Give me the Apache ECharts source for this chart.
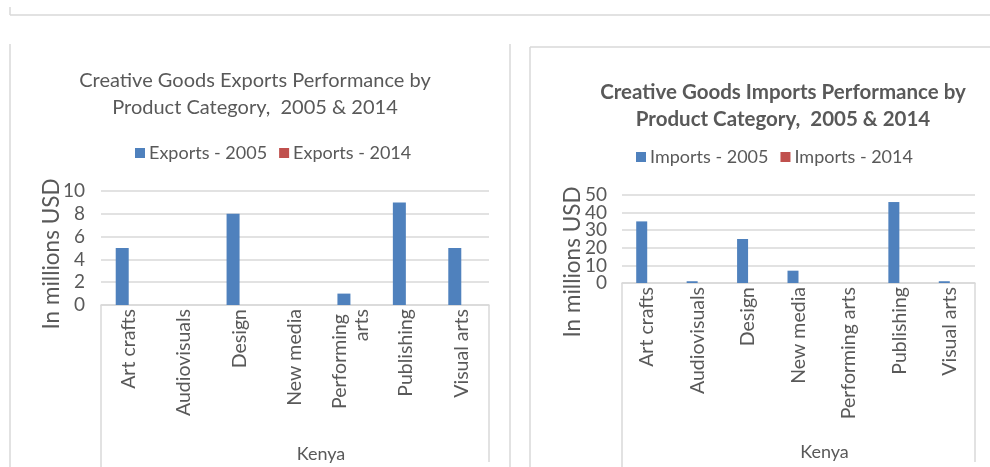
<!DOCTYPE html>
<html>
<head>
<meta charset="utf-8">
<script src="https://cdn.jsdelivr.net/npm/echarts@6/dist/echarts.min.js"></script>
<style>
  html, body { margin: 0; padding: 0; background: #ffffff; }
  #chart { width: 990px; height: 467px; }
</style>
</head>
<body>
<div id="chart"></div>
<script>
// Product categories shared by both panels
const categories = ['Art crafts', 'Audiovisuals', 'Design', 'New media', 'Performing arts', 'Publishing', 'Visual arts'];

// Exports, in millions USD
const exports2005 = [5, 0, 8, 0, 1, 9, 5];
const exports2014 = [0, 0, 0, 0, 0, 0, 0];

// Imports, in millions USD
const imports2005 = [35, 1, 25, 7, 0, 46, 1];
const imports2014 = [0, 0, 0, 0, 0, 0, 0];

// Tick labels of the imports value scale (0–50, step 10)
const importTicks = ['0', '10', '20', '30', '40', '50'];

const countryLabel = 'Kenya';
const yName = 'In millions USD';

const FONT = 'Lato, "Open Sans", sans-serif';
const TEXT = '#595959';
const LINE = '#d9d9d9';
const BLUE = '#4f81bd';
const RED = '#c0504d';

const W = 990, H = 467;
// plot rectangles (pixels)
const gL = { left: 101, right: W - 489, top: 191, bottom: H - 305 };
const gR = { left: 622, right: W - 975, top: 195, bottom: H - 283 };

function xAxisCfg(gridIndex, labelWidth, gap) {
  return {
    type: 'category', gridIndex, data: categories,
    axisLine: { show: true, lineStyle: { color: LINE, width: 1.5 } },
    axisTick: { show: false },
    axisLabel: {
      rotate: 90, color: TEXT, fontFamily: FONT, fontSize: 19.5, margin: 4,
      interval: 0, width: labelWidth, overflow: labelWidth ? 'break' : 'none', lineHeight: 22
    },
    name: countryLabel, nameLocation: 'middle', nameGap: gap, nameMoveOverlap: false,
    nameTextStyle: { color: TEXT, fontFamily: FONT, fontSize: 18, padding: [0, 0, 0, 52] },
    splitLine: { show: false }
  };
}
const yLabelStyle = { color: TEXT, fontFamily: FONT, fontSize: 19, margin: 16 };
function yAxisCfg(gridIndex, max, interval, gap, shift, showLabels) {
  return {
    type: 'value', gridIndex, min: 0, max, interval,
    name: yName, nameLocation: 'middle', nameGap: gap, nameRotate: 90, nameMoveOverlap: false,
    nameTextStyle: { color: TEXT, fontFamily: FONT, fontSize: 22.5, padding: [0, shift, 0, 0] },
    axisLine: { show: false }, axisTick: { show: false },
    axisLabel: Object.assign({ show: showLabels }, yLabelStyle),
    splitLine: { lineStyle: { color: LINE, width: 1.5 } }
  };
}

// the imports scale is tightly packed, so its tick labels are laid out on a
// companion axis that keeps every label
const yRTicks = {
  type: 'category', gridIndex: 1, data: importTicks, boundaryGap: false, position: 'left',
  axisLine: { show: false }, axisTick: { show: false }, splitLine: { show: false },
  axisLabel: Object.assign({}, yLabelStyle, { interval: 0, margin: 15 })
};

const chart = echarts.init(document.getElementById('chart'), null, { renderer: 'canvas' });

// frame lines around the two panels
function seg(x1, y1, x2, y2) {
  return { type: 'line', shape: { x1, y1, x2, y2 }, style: { stroke: LINE, lineWidth: 1.5 }, silent: true };
}
// outer boundaries of the category axis (Excel-style multi-level axis)
function axisSides(g) {
  const x1 = g.left, x2 = W - g.right, y = H - g.bottom;
  return [seg(x1, y, x1, H), seg(x2, y, x2, H - 5)];
}

const legendText = { color: TEXT, fontFamily: FONT, fontSize: 18, padding: [0, 0, 0, -1] };

chart.setOption({
  backgroundColor: '#ffffff',
  animation: false,
  color: [BLUE, RED],
  title: [
    {
      text: 'Creative Goods Exports Performance by\nProduct Category,  2005 & 2014',
      left: 250, top: 62, textAlign: 'center',
      textStyle: { color: TEXT, fontFamily: FONT, fontSize: 20, fontWeight: 'normal', lineHeight: 27 }
    },
    {
      text: 'Creative Goods Imports Performance by\nProduct Category,  2005 & 2014',
      left: 778, top: 74, textAlign: 'center',
      textStyle: { color: TEXT, fontFamily: FONT, fontSize: 20.5, fontWeight: 'bold', lineHeight: 27 }
    }
  ],
  legend: [
    {
      data: ['Exports - 2005', 'Exports - 2014'], left: 130, top: 139,
      itemWidth: 10, itemHeight: 10, itemGap: 12, icon: 'rect', textStyle: legendText
    },
    {
      data: ['Imports - 2005', 'Imports - 2014'], left: 631, top: 143,
      itemWidth: 10, itemHeight: 10, itemGap: 12, icon: 'rect', textStyle: legendText
    }
  ],
  grid: [
    Object.assign({ containLabel: false }, gL),
    Object.assign({ containLabel: false }, gR)
  ],
  xAxis: [xAxisCfg(0, 118, 140), xAxisCfg(1, null, 160)],
  yAxis: [yAxisCfg(0, 10, 2, 38, 12, true), yAxisCfg(1, 50, 10, 38, 46, false), yRTicks],
  series: [
    { name: 'Exports - 2005', type: 'bar', xAxisIndex: 0, yAxisIndex: 0, data: exports2005, barWidth: 13, barGap: '0%', itemStyle: { color: BLUE } },
    { name: 'Exports - 2014', type: 'bar', xAxisIndex: 0, yAxisIndex: 0, data: exports2014, barWidth: 13, barGap: '0%', itemStyle: { color: RED } },
    { name: 'Imports - 2005', type: 'bar', xAxisIndex: 1, yAxisIndex: 1, data: imports2005, barWidth: 11, barGap: '0%', itemStyle: { color: BLUE } },
    { name: 'Imports - 2014', type: 'bar', xAxisIndex: 1, yAxisIndex: 1, data: imports2014, barWidth: 11, barGap: '0%', itemStyle: { color: RED } }
  ],
  graphic: [
    seg(10, 7, 10, 15),
    seg(10, 15, W, 15),
    seg(10, 44, 10, H),
    seg(510, 44, 510, H),
    seg(530, 47, W, 47),
    seg(530, 47, 530, H)
  ].concat(axisSides(gL), axisSides(gR))
});
</script>
</body>
</html>
